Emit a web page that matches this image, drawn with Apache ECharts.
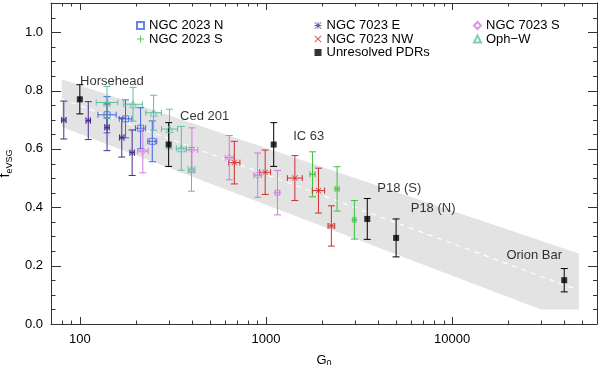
<!DOCTYPE html>
<html>
<head>
<meta charset="utf-8">
<title>feVSG vs G0</title>
<script src="https://cdn.jsdelivr.net/npm/echarts@6/dist/echarts.min.js"></script>
</head>
<body style="margin:0;background:#fff">
<div id="main" style="width:600px;height:365px;"></div>
<script type="text/javascript">
// values (G0, f_eVSG, half error in f, half error in log10 G0)
var pdrNames = ['Horsehead', 'Ced 201', 'IC 63', 'P18 (S)', 'P18 (N)', 'Orion Bar'];
var pdrG = [100, 300, 1100, 3500, 5000, 40000];
var pdrF = [0.77, 0.615, 0.615, 0.36, 0.295, 0.15];
var pdrFerr = [0.05, 0.075, 0.075, 0.07, 0.065, 0.04];

var e7023G = [82, 111, 140, 168, 191];
var e7023F = [0.699, 0.697, 0.674, 0.639, 0.587];
var e7023Ferr = [0.065, 0.065, 0.08, 0.067, 0.078];
var e7023Gerr = [0.012, 0.012, 0.012, 0.012, 0.012];

var n2023G = [140, 176, 212, 245];
var n2023F = [0.717, 0.703, 0.671, 0.626];
var n2023Ferr = [0.062, 0.065, 0.07, 0.07];
var n2023Gerr = [0.049, 0.034, 0.027, 0.024];

var ophG = [140, 193, 249, 303, 351, 398];
var ophF = [0.759, 0.753, 0.724, 0.668, 0.602, 0.53];
var ophFerr = [0.055, 0.058, 0.06, 0.068, 0.075, 0.075];
var ophGerr = [0.058, 0.05, 0.042, 0.043, 0.027, 0.018];

var s7023G = [218, 400, 635, 902, 1153];
var s7023F = [0.593, 0.597, 0.57, 0.51, 0.45];
var s7023Ferr = [0.075, 0.075, 0.076, 0.076, 0.076];
var s7023Gerr = [0.028, 0.031, 0.022, 0.02, 0.012];

var nw7023G = [676, 990, 1429, 1914, 2245];
var nw7023F = [0.553, 0.52, 0.5, 0.457, 0.336];
var nw7023Ferr = [0.073, 0.076, 0.077, 0.077, 0.069];
var nw7023Gerr = [0.03, 0.029, 0.04, 0.033, 0.018];

var s2023G = [1778, 2410, 2984];
var s2023F = [0.513, 0.463, 0.357];
var s2023Ferr = [0.077, 0.076, 0.066];
var s2023Gerr = [0.014, 0.011, 0.008];

// grey band and dashed fit
var bandG = [80, 48000, 48000, 30000, 80];
var bandF = [0.839, 0.242, 0.05, 0.05, 0.675];
var fitG = [80, 45000];
var fitF = [0.771, 0.122];

// ticks
var xMajor = [100, 1000, 10000];
var xMinor = [80, 90, 200, 300, 400, 500, 600, 700, 800, 900,
              2000, 3000, 4000, 5000, 6000, 7000, 8000, 9000,
              20000, 30000, 40000, 50000];
var yMajor = [0, 0.2, 0.4, 0.6, 0.8, 1.0];
var yMinor = [0.05, 0.1, 0.15, 0.25, 0.3, 0.35, 0.45, 0.5, 0.55, 0.65, 0.7, 0.75,
              0.85, 0.9, 0.95, 1.05];

var FONT = '"Liberation Sans", Arial, Helvetica, sans-serif';
var AXC = '#333';

// symbols
var SYM_ASTER = 'path://M4.4,0H5.6V10H4.4Z M0,4.4H10V5.6H0Z M0.8,0L10,9.2L9.2,10L0,0.8Z M9.2,0L10,0.8L0.8,10L0,9.2Z';
var SYM_CROSS = 'path://M0,1L1,0L5,4L9,0L10,1L6,5L10,9L9,10L5,6L1,10L0,9L4,5Z';
var SYM_PLUS = 'path://M4.2,0H5.8V4.2H10V5.8H5.8V10H4.2V5.8H0V4.2H4.2Z';

function zip(g, f, ge, fe) {
    return g.map(function (v, i) { return [v, f[i], ge ? ge[i] : 0, fe[i]]; });
}

function seg(x1, y1, x2, y2, col) {
    return { type: 'line', shape: { x1: x1, y1: y1, x2: x2, y2: y2 }, style: { stroke: col, lineWidth: 1 } };
}

function errRender(params, api) {
    var g = api.value(0), f = api.value(1), gd = api.value(2), fe = api.value(3);
    var col = api.visual('color');
    var top = api.coord([g, f + fe]), bot = api.coord([g, f - fe]);
    var kids = [
        seg(top[0], top[1], bot[0], bot[1], col),
        seg(top[0] - 3.5, top[1], top[0] + 3.5, top[1], col),
        seg(bot[0] - 3.5, bot[1], bot[0] + 3.5, bot[1], col)
    ];
    if (gd > 0) {
        var l = api.coord([g * Math.pow(10, -gd), f]), r = api.coord([g * Math.pow(10, gd), f]);
        kids.push(seg(l[0], l[1], r[0], r[1], col));
        kids.push(seg(l[0], l[1] - 3, l[0], l[1] + 3, col));
        kids.push(seg(r[0], r[1] - 3, r[0], r[1] + 3, col));
    }
    return { type: 'group', children: kids };
}

// inward tick marks on all four sides, placed through the axes' scales
function tickRender(params, api) {
    if (params.dataIndex !== 0) return;
    var cs = params.coordSys;
    var L = cs.x, R = cs.x + cs.width, T = cs.y, B = cs.y + cs.height;
    var kids = [];
    function tx(v, len) {
        var p = Math.round(api.coord([v, 0.5])[0]) + 0.5;
        kids.push(seg(p, B, p, B - len, AXC));
        kids.push(seg(p, T, p, T + len, AXC));
    }
    function ty(v, lenL, lenR) {
        var p = Math.round(api.coord([100, v])[1]) + 0.5;
        kids.push(seg(L, p, L + lenL, p, AXC));
        kids.push(seg(R, p, R - lenR, p, AXC));
    }
    xMajor.forEach(function (v) { tx(v, 7); });
    xMinor.forEach(function (v) { tx(v, 3.5); });
    yMajor.forEach(function (v) { ty(v, 10, 9); });
    yMinor.forEach(function (v) { ty(v, 4.5, 4); });
    return { type: 'group', children: kids };
}

var groups = [
    { name: 'NGC 2023 N', g: n2023G, f: n2023F, ge: n2023Gerr, fe: n2023Ferr, color: '#3f66e0', symbol: 'rect', size: 6, open: true },
    { name: 'NGC 2023 S', g: s2023G, f: s2023F, ge: s2023Gerr, fe: s2023Ferr, color: '#3fc23f', symbol: SYM_PLUS, size: 6 },
    { name: 'NGC 7023 E', g: e7023G, f: e7023F, ge: e7023Gerr, fe: e7023Ferr, color: '#4a2c8e', symbol: SYM_ASTER, size: 6 },
    { name: 'NGC 7023 NW', g: nw7023G, f: nw7023F, ge: nw7023Gerr, fe: nw7023Ferr, color: '#cf2e2e', symbol: SYM_CROSS, size: 6 },
    { name: 'NGC 7023 S', g: s7023G, f: s7023F, ge: s7023Gerr, fe: s7023Ferr, color: '#d27ae0', symbol: 'diamond', size: 7, open: true },
    { name: 'Oph\u2212W', g: ophG, f: ophF, ge: ophGerr, fe: ophFerr, color: '#5fbfa6', symbol: 'triangle', size: 7, open: true },
    { name: 'Unresolved PDRs', g: pdrG, f: pdrF, ge: null, fe: pdrFerr, color: '#000', symbol: 'rect', size: 6 }
];

var series = [
    {
        type: 'custom', name: 'band', z: 1, silent: true,
        data: bandG.map(function (g, i) { return [g, bandF[i]]; }),
        renderItem: function (params, api) {
            if (params.dataIndex !== 0) return;
            var pts = bandG.map(function (g, i) { return api.coord([g, bandF[i]]); });
            return { type: 'polygon', shape: { points: pts }, style: { fill: '#e3e3e3' } };
        }
    },
    {
        type: 'line', name: 'fit', z: 2, silent: true, symbol: 'none',
        data: fitG.map(function (g, i) { return [g, fitF[i]]; }),
        lineStyle: { color: '#fff', width: 1.2, type: [5, 5] }
    },
    {
        type: 'custom', name: 'ticks', z: 6, silent: true, clip: false,
        data: [[100, 0.5]],
        renderItem: tickRender
    }
];

// label offsets for the unresolved PDR names (pixels from the marker)
var pdrLabelOffset = [[32, -18], [36, -28], [35, -8], [32, -31], [37, -29], [-30, -25]];

groups.forEach(function (s) {
    series.push({
        type: 'custom', name: s.name + ' err', z: 3, silent: true,
        itemStyle: { color: s.color },
        encode: { x: 0, y: 1 },
        data: zip(s.g, s.f, s.ge, s.fe),
        renderItem: errRender
    });
    var pts = s.g.map(function (g, i) { return [g, s.f[i]]; });
    if (s.name === 'Unresolved PDRs') {
        pts = pts.map(function (p, i) {
            return { name: pdrNames[i], value: p, label: { offset: pdrLabelOffset[i] } };
        });
    }
    series.push({
        type: 'scatter', name: s.name, z: 4,
        symbol: s.symbol, symbolSize: s.size,
        itemStyle: s.open ? { color: 'rgba(255,255,255,0)', borderColor: s.color, borderWidth: 1 }
                          : { color: s.color, borderWidth: 0 },
        label: s.name === 'Unresolved PDRs' ? {
            show: true, position: 'inside', formatter: '{b}',
            color: '#000', fontSize: 13, fontFamily: FONT
        } : { show: false },
        data: pts
    });
});

function xAxisDef(pos, labels) {
    return {
        type: 'log', min: 70, max: 60000, position: pos,
        axisLine: { show: true, onZero: false, lineStyle: { color: AXC } },
        axisTick: { show: false },
        axisLabel: labels ? {
            show: true, customValues: xMajor, color: '#000', fontSize: 13, fontFamily: FONT, margin: 9,
            formatter: function (v) { return String(Math.round(v)); }
        } : { show: false },
        splitLine: { show: false }, minorTick: { show: false }
    };
}
function yAxisDef(pos, labels) {
    return {
        type: 'value', min: 0, max: 1.1, position: pos,
        axisLine: { show: true, onZero: false, lineStyle: { color: AXC } },
        axisTick: { show: false },
        axisLabel: labels ? {
            show: true, customValues: yMajor, color: '#000', fontSize: 13, fontFamily: FONT, margin: 8,
            formatter: function (v) { return v.toFixed(1); }
        } : { show: false },
        splitLine: { show: false }
    };
}

var xAxes = [xAxisDef('bottom', true), xAxisDef('top', false)];
xAxes[0].name = '{a|G}{b|0}';
xAxes[0].nameLocation = 'middle';
xAxes[0].nameGap = 28;
xAxes[0].nameTextStyle = {
    fontFamily: FONT, color: '#000',
    rich: { a: { fontSize: 13, fontFamily: FONT, color: '#000', lineHeight: 16 },
            b: { fontSize: 9, fontFamily: FONT, color: '#000', lineHeight: 16, padding: [8, 0, 0, 0] } }
};

var yAxes = [yAxisDef('left', true), yAxisDef('right', false)];
yAxes[0].name = '{a|f}{b|eVSG}';
yAxes[0].nameLocation = 'middle';
yAxes[0].nameGap = 34;
yAxes[0].nameRotate = 90;
yAxes[0].nameTextStyle = {
    fontFamily: FONT, color: '#000',
    rich: { a: { fontSize: 14, fontFamily: FONT, color: '#000', lineHeight: 18 },
            b: { fontSize: 9, fontFamily: FONT, color: '#000', lineHeight: 18, padding: [9, 0, 0, 0] } }
};

function legendDef(left, names) {
    return {
        left: left, top: 14, orient: 'vertical', data: names,
        itemWidth: 7, itemHeight: 7, itemGap: 0.5, selectedMode: false,
        textStyle: { fontSize: 13, fontFamily: FONT, color: '#000', lineHeight: 12 }
    };
}

var myChart = echarts.init(document.getElementById('main'));
myChart.setOption({
    animation: false,
    backgroundColor: '#fff',
    grid: { left: 51, top: 3, width: 546, height: 321, show: false, outerBoundsMode: 'none' },
    legend: [
        legendDef(131, ['NGC 2023 N', 'NGC 2023 S']),
        legendDef(309.5, ['NGC 7023 E', 'NGC 7023 NW', 'Unresolved PDRs']),
        legendDef(468, ['NGC 7023 S', 'Oph\u2212W'])
    ],
    xAxis: xAxes,
    yAxis: yAxes,
    series: series
});
</script>
</body>
</html>
